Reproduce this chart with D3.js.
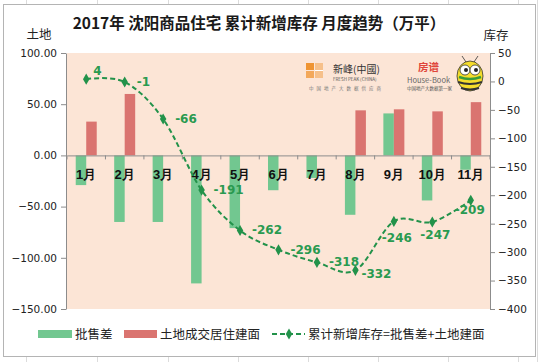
<!DOCTYPE html>
<html>
<head>
<meta charset="utf-8">
<script src="https://cdn.jsdelivr.net/npm/d3@7"></script>
<style>
  body { margin: 0; background: #fff; }
  svg { display: block; font-family: "Noto Sans CJK SC", "DejaVu Sans", sans-serif; }
</style>
</head>
<body>
<script>
// monthly data, 万平
const months = ['1月', '2月', '3月', '4月', '5月', '6月', '7月', '8月', '9月', '10月', '11月'];
const wholesaleGap = [-29, -65, -65, -125, -71, -34, -22, -58, 41, -44, -14];   // 批售差
const landArea = [33, 60, 0, 0, 0, 0, 0, 44, 45, 43, 52];                      // 土地成交居住建面
const cumStock = [4, -1, -66, -191, -262, -296, -318, -332, -246, -247, -209];  // 累计新增库存
const leftTicks = [-150, -100, -50, 0, 50, 100];
const rightTicks = [-400, -350, -300, -250, -200, -150, -100, -50, 0, 50];

const W = 540, H = 362;
const green = '#72c790', red = '#da7470', lineGreen = '#22924a';

const svg = d3.select('body').append('svg').attr('width', W).attr('height', H);

// spreadsheet grid peeking around the chart
const grid = svg.append('g').attr('stroke', '#dcdcdc').attr('stroke-width', 1);
[26, 97, 168, 238, 308, 378, 448, 518].forEach(gx => {
  grid.append('line').attr('x1', gx + 0.5).attr('x2', gx + 0.5).attr('y1', 0).attr('y2', 4);
  grid.append('line').attr('x1', gx + 0.5).attr('x2', gx + 0.5).attr('y1', 357).attr('y2', H);
});
grid.append('line').attr('x1', 537.5).attr('x2', 537.5).attr('y1', 0).attr('y2', H);

// chart frame
svg.append('rect').attr('x', 3.5).attr('y', 4.5).attr('width', 532).attr('height', 352)
  .attr('fill', '#fff').attr('stroke', '#b4b4b4');

const plot = { left: 67, right: 490, top: 53, bottom: 309 };

svg.append('rect').attr('x', plot.left).attr('y', plot.top)
  .attr('width', plot.right - plot.left).attr('height', plot.bottom - plot.top)
  .attr('fill', '#fce5d6');

const x = d3.scaleBand().domain(months).range([plot.left, plot.right]);
const yL = d3.scaleLinear().domain([-150, 100]).range([plot.bottom, plot.top]);
const yR = d3.scaleLinear().domain([-400, 50]).range([plot.bottom, plot.top]);

// title
svg.append('text').attr('x', 259).attr('y', 29).attr('text-anchor', 'middle')
  .attr('font-size', 15.5).attr('font-weight', 'bold').attr('fill', '#1a1a1a')
  .text('2017年 沈阳商品住宅  累计新增库存 月度趋势（万平）');
svg.append('text').attr('x', 39).attr('y', 39).attr('text-anchor', 'middle')
  .attr('font-size', 12.5).attr('fill', '#222').text('土地');
svg.append('text').attr('x', 496).attr('y', 40).attr('text-anchor', 'middle')
  .attr('font-size', 12.5).attr('fill', '#222').text('库存');

// logos (rough)
const logo = svg.append('g');
logo.append('rect').attr('x', 306).attr('y', 63).attr('width', 8).attr('height', 7).attr('fill', '#ef9432');
logo.append('rect').attr('x', 306).attr('y', 71).attr('width', 8).attr('height', 7).attr('fill', '#f3a85a');
logo.append('rect').attr('x', 315).attr('y', 63).attr('width', 8).attr('height', 15).attr('fill', '#f6c08a');
logo.append('rect').attr('x', 315).attr('y', 70).attr('width', 8).attr('height', 1).attr('fill', '#fff');
logo.append('text').attr('x', 333).attr('y', 73).attr('font-size', 10).attr('fill', '#333').text('新峰(中國)');
logo.append('text').attr('x', 333).attr('y', 81).attr('font-size', 4.5).attr('fill', '#555').text('FRESH PEAK (CHINA)');
logo.append('text').attr('x', 309).attr('y', 90).attr('font-size', 4.5).attr('fill', '#777')
  .attr('letter-spacing', 3).text('中国地产大数据供应商');
logo.append('text').attr('x', 418).attr('y', 71).attr('font-size', 10.5).attr('font-weight', 'bold')
  .attr('fill', '#e0453b').text('房谱');
logo.append('text').attr('x', 407).attr('y', 83).attr('font-size', 7.5).attr('fill', '#666').text('House-Book');
logo.append('text').attr('x', 407).attr('y', 90).attr('font-size', 4.5).attr('fill', '#555').text('中国地产大数据第一家');
// bee
const bee = logo.append('g').attr('transform', 'translate(470,76)');
bee.append('ellipse').attr('rx', 13).attr('ry', 15).attr('fill', '#f5dc2c').attr('stroke', '#333').attr('stroke-width', 0.8);
bee.append('path').attr('d', 'M-12,6 Q0,10 12,6').attr('stroke', '#333').attr('stroke-width', 2).attr('fill', 'none');
bee.append('path').attr('d', 'M-9,12 Q0,15 9,12').attr('stroke', '#333').attr('stroke-width', 2).attr('fill', 'none');
bee.append('path').attr('d', 'M-11,1 Q0,5 11,1').attr('stroke', '#3a9c3a').attr('stroke-width', 2.5).attr('fill', 'none');
[-5, 5].forEach(ex => {
  bee.append('circle').attr('cx', ex).attr('cy', -6).attr('r', 5).attr('fill', '#fff').attr('stroke', '#333').attr('stroke-width', 0.8);
  bee.append('circle').attr('cx', ex + 1).attr('cy', -6).attr('r', 2).attr('fill', '#222');
});
bee.append('path').attr('d', 'M-4,-14 L-8,-20 M4,-14 L8,-20').attr('stroke', '#333').attr('stroke-width', 0.8);

// axes
const axisColor = '#8c8c8c';
const leftAxis = svg.append('g').attr('transform', `translate(${plot.left - 1},0)`)
  .call(d3.axisLeft(yL).tickValues(leftTicks).tickFormat(d3.format('.2f')).tickSize(5).tickSizeOuter(0).tickPadding(4));
const rightAxis = svg.append('g').attr('transform', `translate(${plot.right},0)`)
  .call(d3.axisRight(yR).tickValues(rightTicks).tickSize(5).tickSizeOuter(0).tickPadding(3));
[leftAxis, rightAxis].forEach(a => {
  a.select('.domain').attr('stroke', axisColor);
  a.selectAll('.tick line').attr('stroke', axisColor);
  a.selectAll('.tick text').attr('font-family', 'DejaVu Sans').attr('font-size', 10.5).attr('fill', '#222');
});

// bars
const bw = 10.5;
const bars = svg.append('g');
bars.selectAll('rect.gap').data(wholesaleGap).enter().append('rect')
  .attr('x', (d, i) => x(months[i]) + x.bandwidth() / 2 - bw)
  .attr('y', d => yL(Math.max(0, d)))
  .attr('width', bw)
  .attr('height', d => Math.abs(yL(d) - yL(0)))
  .attr('fill', green);
bars.selectAll('rect.land').data(landArea).enter().append('rect')
  .attr('x', (d, i) => x(months[i]) + x.bandwidth() / 2)
  .attr('y', d => yL(Math.max(0, d)))
  .attr('width', bw)
  .attr('height', d => Math.abs(yL(d) - yL(0)))
  .attr('fill', red);

// category axis crossing at zero
const xAxis = svg.append('g').attr('transform', `translate(0,${yL(0)})`)
  .call(d3.axisBottom(x).tickSize(0).tickPadding(14));
xAxis.select('.domain').attr('stroke', axisColor);
xAxis.selectAll('.tick text').attr('font-size', 13).attr('font-weight', 'bold').attr('fill', '#111');
const bounds = months.map(m => x(m)).concat([plot.right]);
xAxis.selectAll('line.cat').data(bounds).enter().append('line')
  .attr('x1', d => d).attr('x2', d => d).attr('y1', 0).attr('y2', 4)
  .attr('stroke', axisColor);

// cumulative stock line
const pts = cumStock.map((v, i) => [x(months[i]) + x.bandwidth() / 2, yR(v)]);
svg.append('path').datum(pts)
  .attr('d', d3.line().curve(d3.curveCatmullRom.alpha(0)))
  .attr('fill', 'none').attr('stroke', lineGreen).attr('stroke-width', 2)
  .attr('stroke-dasharray', '5,3');
const diamond = d3.symbol().type(d3.symbolDiamond).size(36);
svg.selectAll('path.mk').data(pts).enter().append('path')
  .attr('transform', d => `translate(${d[0]},${d[1]})`)
  .attr('d', diamond).attr('fill', lineGreen);

// data labels (offsets relative to each point)
const labelOffset = [[7, -4], [12, 4], [12, 4], [12, 4], [12, 4], [12, 4], [12, 4], [6, 8], [-12, 21], [-12, 17], [-16, 14]];
svg.selectAll('text.lbl').data(cumStock).enter().append('text')
  .attr('x', (d, i) => pts[i][0] + labelOffset[i][0])
  .attr('y', (d, i) => pts[i][1] + labelOffset[i][1])
  .attr('font-family', 'DejaVu Sans').attr('font-weight', 'bold').attr('font-size', 12)
  .attr('fill', '#2a9a50').text(d => d);

// legend
const lg = svg.append('g').attr('font-size', 12.5).attr('fill', '#222');
lg.append('rect').attr('x', 38).attr('y', 330).attr('width', 34).attr('height', 8).attr('fill', green);
lg.append('text').attr('x', 75).attr('y', 339).text('批售差');
lg.append('rect').attr('x', 124).attr('y', 330).attr('width', 33).attr('height', 8).attr('fill', red);
lg.append('text').attr('x', 160).attr('y', 339).text('土地成交居住建面');
lg.append('line').attr('x1', 272).attr('x2', 305).attr('y1', 334).attr('y2', 334)
  .attr('stroke', lineGreen).attr('stroke-width', 2).attr('stroke-dasharray', '5,3');
lg.append('path').attr('transform', 'translate(289,334)').attr('d', diamond).attr('fill', lineGreen);
lg.append('text').attr('x', 308).attr('y', 339).text('累计新增库存=批售差+土地建面');
</script>
</body>
</html>
